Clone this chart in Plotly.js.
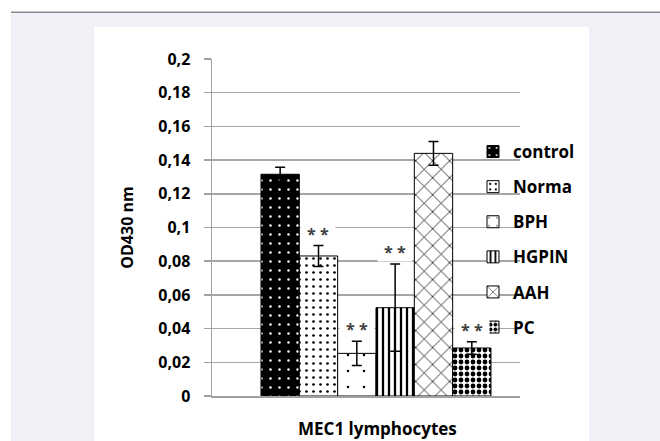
<!DOCTYPE html>
<html>
<head>
<meta charset="utf-8">
<script src="https://cdn.plot.ly/plotly-3.0.1.min.js"></script>
<style>html,body{margin:0;padding:0;background:#fff;}#chart{width:660px;height:441px;}</style>
</head>
<body>
<div id="chart"></div>
<script>
// ---- data ----
const groups = ['control', 'Norma', 'BPH', 'HGPIN', 'AAH', 'PC'];
const values = [0.1316, 0.0831, 0.0253, 0.0524, 0.1440, 0.0285];
const errors = [0.0041, 0.0062, 0.0072, 0.0259, 0.0070, 0.0037];
const significance = ['', '**', '**', '**', '', '**'];
const tickVals = [0, 0.02, 0.04, 0.06, 0.08, 0.1, 0.12, 0.14, 0.16, 0.18, 0.2];
const tickText = ['0', '0,02', '0,04', '0,06', '0,08', '0,1', '0,12', '0,14', '0,16', '0,18', '0,2'];
const xTitle = 'MEC1 lymphocytes';
const yTitle = 'OD430 nm';

// ---- styles ----
const patterns = [
  {shape: '.', bgcolor: '#000', fgcolor: '#fff', size: 9, solidity: 0.06},
  {shape: '.', bgcolor: '#fff', fgcolor: '#000', size: 7, solidity: 0.12},
  {shape: '.', bgcolor: '#fff', fgcolor: '#000', size: 16, solidity: 0.02},
  {shape: '|', bgcolor: '#fff', fgcolor: '#000', size: 6, solidity: 0.38},
  {shape: 'x', bgcolor: '#fff', fgcolor: '#000', size: 12, solidity: 0.12},
  {shape: '.', bgcolor: '#fff', fgcolor: '#000', size: 6, solidity: 0.5}
];
const FONT = 'Open Sans, Lato, sans-serif';

const traces = groups.map((g, i) => ({
  type: 'bar',
  name: g,
  x: [g],
  y: [values[i]],
  legendgroup: g,
  marker: {
    color: patterns[i].bgcolor,
    line: {color: '#000', width: 1},
    pattern: Object.assign({fillmode: 'replace'}, patterns[i])
  },
  error_y: {type: 'data', array: [errors[i]], visible: true, color: '#000', thickness: 1.5, width: 5}
}));

// plot-area pixel geometry helpers (for page decoration only)
const W = 660, H = 441, L = 212, R = 140, T = 59, B = 45;
const pw = W - L - R, ph = H - T - B;
const px = v => (v - L) / pw;
const py = v => (H - B - v) / ph;

const annotations = groups.map((g, i) => significance[i] ? {
  x: g, y: values[i] + errors[i], xref: 'x', yref: 'y',
  text: '* *', showarrow: false, yanchor: 'bottom', yshift: 2,
  bgcolor: '#fff', width: 32, height: 17,
  font: {family: FONT, size: 16, color: '#404040', weight: 700}
} : null).filter(a => a);

annotations.push({
  xref: 'paper', yref: 'paper', x: px(377), y: py(428),
  text: xTitle, showarrow: false, xanchor: 'center', yanchor: 'middle',
  font: {family: FONT, size: 17, color: '#000', weight: 700}
});

const layout = {
  width: W, height: H,
  margin: {l: L, r: R, t: T, b: B, pad: 0},
  paper_bgcolor: '#fff',
  plot_bgcolor: 'rgba(0,0,0,0)',
  barmode: 'overlay',
  bargap: 0,
  showlegend: true,
  legend: {
    x: px(473), y: py(134), xanchor: 'left', yanchor: 'top',
    bgcolor: 'rgba(0,0,0,0)', tracegroupgap: 10,
    font: {family: FONT, size: 17, color: '#000', weight: 700}
  },
  xaxis: {
    type: 'category',
    range: [-1.778, 6.257],
    showticklabels: false, ticks: '',
    showgrid: false, zeroline: false,
    showline: true, linecolor: '#a0a0a0', linewidth: 1.5
  },
  yaxis: {
    range: [0, 0.2],
    tickvals: tickVals, ticktext: tickText,
    ticks: 'outside', ticklen: 7, tickcolor: '#a0a0a0', tickwidth: 1.5,
    ticklabelstandoff: 10,
    showgrid: true, gridcolor: '#a6a6a6', gridwidth: 1.5,
    zeroline: false,
    showline: true, linecolor: '#a0a0a0', linewidth: 1.5,
    tickfont: {family: FONT, size: 16, color: '#000', weight: 700},
    title: {text: yTitle, standoff: 20, font: {family: FONT, size: 16, color: '#000', weight: 700}}
  },
  annotations: annotations,
  shapes: [
    {type: 'rect', xref: 'paper', yref: 'paper', layer: 'below',
     x0: px(11), x1: px(660), y0: py(441), y1: py(13), fillcolor: '#f0f1f7', line: {width: 0}},
    {type: 'rect', xref: 'paper', yref: 'paper', layer: 'below',
     x0: px(94), x1: px(589), y0: py(441), y1: py(26.7), fillcolor: '#ffffff', line: {width: 0}},
    {type: 'line', xref: 'paper', yref: 'paper', layer: 'below',
     x0: px(11), x1: px(660), y0: py(12.3), y1: py(12.3), line: {color: '#8c8c8c', width: 1.5}}
  ]
};

Plotly.newPlot('chart', traces, layout, {displayModeBar: false, staticPlot: true});
</script>
</body>
</html>
